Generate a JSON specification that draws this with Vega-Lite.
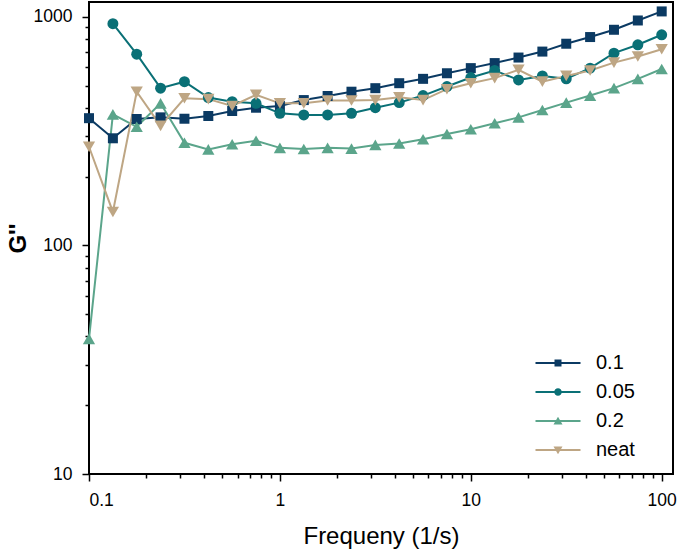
{
  "$schema": "https://vega.github.io/schema/vega-lite/v6.json",
  "width": 584,
  "height": 472,
  "autosize": {"type": "none"},
  "padding": {"left": 89, "top": 2, "right": 12, "bottom": 76},
  "config": {
    "font": "Liberation Sans",
    "view": {"stroke": "black", "strokeWidth": 2},
    "axis": {"labelColor": "black", "titleColor": "black", "tickColor": "black", "domainColor": "black", "grid": false, "labelFontSize": 17.5, "tickWidth": 1.5}
  },
  "datasets": {
    "d": [
      {"f": 0.1, "g": 360, "s": "0.1"}, {"f": 0.1334, "g": 294, "s": "0.1"}, {"f": 0.1778, "g": 357, "s": "0.1"}, {"f": 0.2371, "g": 363, "s": "0.1"}, {"f": 0.3162, "g": 358, "s": "0.1"}, {"f": 0.4217, "g": 368, "s": "0.1"}, {"f": 0.5623, "g": 387, "s": "0.1"}, {"f": 0.7499, "g": 400, "s": "0.1"}, {"f": 1, "g": 407, "s": "0.1"}, {"f": 1.334, "g": 432, "s": "0.1"}, {"f": 1.778, "g": 450, "s": "0.1"}, {"f": 2.371, "g": 470, "s": "0.1"}, {"f": 3.162, "g": 487, "s": "0.1"}, {"f": 4.217, "g": 512, "s": "0.1"}, {"f": 5.623, "g": 535, "s": "0.1"}, {"f": 7.499, "g": 566, "s": "0.1"}, {"f": 10, "g": 596, "s": "0.1"}, {"f": 13.34, "g": 627, "s": "0.1"}, {"f": 17.78, "g": 663, "s": "0.1"}, {"f": 23.71, "g": 704, "s": "0.1"}, {"f": 31.62, "g": 762, "s": "0.1"}, {"f": 42.17, "g": 815, "s": "0.1"}, {"f": 56.23, "g": 877, "s": "0.1"}, {"f": 74.99, "g": 963, "s": "0.1"}, {"f": 100, "g": 1055, "s": "0.1"},
      {"f": 0.1334, "g": 932, "s": "0.05"}, {"f": 0.1778, "g": 686, "s": "0.05"}, {"f": 0.2371, "g": 487, "s": "0.05"}, {"f": 0.3162, "g": 520, "s": "0.05"}, {"f": 0.4217, "g": 443, "s": "0.05"}, {"f": 0.5623, "g": 425, "s": "0.05"}, {"f": 0.7499, "g": 418, "s": "0.05"}, {"f": 1, "g": 378, "s": "0.05"}, {"f": 1.334, "g": 372, "s": "0.05"}, {"f": 1.778, "g": 372, "s": "0.05"}, {"f": 2.371, "g": 378, "s": "0.05"}, {"f": 3.162, "g": 400, "s": "0.05"}, {"f": 4.217, "g": 421, "s": "0.05"}, {"f": 5.623, "g": 452, "s": "0.05"}, {"f": 7.499, "g": 495, "s": "0.05"}, {"f": 10, "g": 542, "s": "0.05"}, {"f": 13.34, "g": 582, "s": "0.05"}, {"f": 17.78, "g": 529, "s": "0.05"}, {"f": 23.71, "g": 551, "s": "0.05"}, {"f": 31.62, "g": 535, "s": "0.05"}, {"f": 42.17, "g": 596, "s": "0.05"}, {"f": 56.23, "g": 693, "s": "0.05"}, {"f": 74.99, "g": 754, "s": "0.05"}, {"f": 100, "g": 834, "s": "0.05"},
      {"f": 0.1, "g": 39, "s": "0.2"}, {"f": 0.1334, "g": 374, "s": "0.2"}, {"f": 0.1778, "g": 330, "s": "0.2"}, {"f": 0.2371, "g": 418, "s": "0.2"}, {"f": 0.3162, "g": 281, "s": "0.2"}, {"f": 0.4217, "g": 263, "s": "0.2"}, {"f": 0.5623, "g": 277, "s": "0.2"}, {"f": 0.7499, "g": 287, "s": "0.2"}, {"f": 1, "g": 267, "s": "0.2"}, {"f": 1.334, "g": 264, "s": "0.2"}, {"f": 1.778, "g": 267, "s": "0.2"}, {"f": 2.371, "g": 265, "s": "0.2"}, {"f": 3.162, "g": 275, "s": "0.2"}, {"f": 4.217, "g": 279, "s": "0.2"}, {"f": 5.623, "g": 291, "s": "0.2"}, {"f": 7.499, "g": 307, "s": "0.2"}, {"f": 10, "g": 322, "s": "0.2"}, {"f": 13.34, "g": 342, "s": "0.2"}, {"f": 17.78, "g": 363, "s": "0.2"}, {"f": 23.71, "g": 391, "s": "0.2"}, {"f": 31.62, "g": 421, "s": "0.2"}, {"f": 42.17, "g": 452, "s": "0.2"}, {"f": 56.23, "g": 487, "s": "0.2"}, {"f": 74.99, "g": 535, "s": "0.2"}, {"f": 100, "g": 591, "s": "0.2"},
      {"f": 0.1, "g": 270, "s": "neat"}, {"f": 0.1334, "g": 140, "s": "neat"}, {"f": 0.1778, "g": 470, "s": "neat"}, {"f": 0.2371, "g": 333, "s": "neat"}, {"f": 0.3162, "g": 440, "s": "neat"}, {"f": 0.4217, "g": 436, "s": "neat"}, {"f": 0.5623, "g": 407, "s": "neat"}, {"f": 0.7499, "g": 455, "s": "neat"}, {"f": 1, "g": 418, "s": "neat"}, {"f": 1.334, "g": 418, "s": "neat"}, {"f": 1.778, "g": 430, "s": "neat"}, {"f": 2.371, "g": 430, "s": "neat"}, {"f": 3.162, "g": 432, "s": "neat"}, {"f": 4.217, "g": 444, "s": "neat"}, {"f": 5.623, "g": 432, "s": "neat"}, {"f": 7.499, "g": 482, "s": "neat"}, {"f": 10, "g": 512, "s": "neat"}, {"f": 13.34, "g": 539, "s": "neat"}, {"f": 17.78, "g": 586, "s": "neat"}, {"f": 23.71, "g": 520, "s": "neat"}, {"f": 31.62, "g": 551, "s": "neat"}, {"f": 42.17, "g": 582, "s": "neat"}, {"f": 56.23, "g": 630, "s": "neat"}, {"f": 74.99, "g": 670, "s": "neat"}, {"f": 100, "g": 721, "s": "neat"}
    ]
  },
  "data": {"name": "d"},
  "layer": [
    {
      "mark": {"type": "line", "strokeWidth": 2},
      "encoding": {
        "x": {"field": "f", "type": "quantitative", "scale": {"type": "log", "domain": [0.1, 114.6], "nice": false},
          "axis": {"orient": "bottom", "values": [0.1, 1, 10, 100], "format": "~r", "tickSize": 7, "domain": false, "labelPadding": 10, "title": "Frequeny (1/s)", "titleFontSize": 24, "titleFontWeight": "normal", "titlePadding": 16}},
        "y": {"field": "g", "type": "quantitative", "scale": {"type": "log", "domain": [10, 1160], "nice": false},
          "axis": {"orient": "left", "values": [10, 100, 1000], "format": "~r", "tickSize": 7, "domain": false, "labelPadding": 10, "title": "G''", "titleFontSize": 24, "titleFontWeight": "bold", "titlePadding": 3}},
        "color": {"field": "s", "type": "nominal", "scale": {"range": ["#0a7076", "#0b3a63", "#5ba58b", "#bea684"]}, "legend": null},
        "order": {"field": "f", "type": "quantitative"}
      }
    },
    {
      "transform": [{"filter": "datum.s === '0.1'"}],
      "mark": {"type": "point", "filled": true, "opacity": 1, "shape": "square", "size": 100},
      "encoding": {
        "x": {"field": "f", "type": "quantitative", "axis": {"orient": "bottom", "values": [0.2, 0.3, 0.4, 0.5, 0.6, 0.7, 0.8, 0.9, 2, 3, 4, 5, 6, 7, 8, 9, 20, 30, 40, 50, 60, 70, 80, 90], "labels": false, "tickSize": 4, "domain": false, "title": null}},
        "y": {"field": "g", "type": "quantitative", "axis": {"orient": "left", "values": [20, 30, 40, 50, 60, 70, 80, 90, 200, 300, 400, 500, 600, 700, 800, 900], "labels": false, "tickSize": 4, "domain": false, "title": null}},
        "color": {"field": "s", "type": "nominal", "legend": null}
      }
    },
    {
      "transform": [{"filter": "datum.s === '0.05'"}],
      "mark": {"type": "point", "filled": true, "opacity": 1, "shape": "circle", "size": 120},
      "encoding": {
        "x": {"field": "f", "type": "quantitative", "axis": null},
        "y": {"field": "g", "type": "quantitative", "axis": null},
        "color": {"field": "s", "type": "nominal", "legend": null}
      }
    },
    {
      "transform": [{"filter": "datum.s === '0.2'"}],
      "mark": {"type": "point", "filled": true, "opacity": 1, "shape": "triangle-up", "size": 150},
      "encoding": {
        "x": {"field": "f", "type": "quantitative", "axis": null},
        "y": {"field": "g", "type": "quantitative", "axis": null},
        "color": {"field": "s", "type": "nominal", "legend": null}
      }
    },
    {
      "transform": [{"filter": "datum.s === 'neat'"}],
      "mark": {"type": "point", "filled": true, "opacity": 1, "shape": "triangle-down", "size": 150},
      "encoding": {
        "x": {"field": "f", "type": "quantitative", "axis": null},
        "y": {"field": "g", "type": "quantitative", "axis": null},
        "color": {"field": "s", "type": "nominal", "legend": null}
      }
    },
    {
      "mark": {"type": "point", "filled": true, "opacity": 0, "size": 144},
      "encoding": {
        "x": {"field": "f", "type": "quantitative", "axis": null},
        "y": {"field": "g", "type": "quantitative", "axis": null},
        "fill": {"field": "s", "type": "nominal", "scale": {"domain": ["0.1", "0.05", "0.2", "neat"], "range": ["#0b3a63", "#0a7076", "#5ba58b", "#bea684"]}, "legend": {"title": null, "orient": "none", "legendX": 459, "legendY": 351, "padding": 0, "symbolOpacity": 1, "symbolStrokeWidth": 0, "labelFontSize": 20, "labelColor": "black", "labelOffset": 28, "rowPadding": 9}},
        "shape": {"field": "s", "type": "nominal", "scale": {"domain": ["0.1", "0.05", "0.2", "neat"], "range": [
          "M-4.5,-0.2H4.5V0.2H-4.5ZM-0.7,-0.7H0.7V0.7H-0.7Z",
          "M-4.5,-0.2H4.5V0.2H-4.5ZM0.75,0A0.75,0.75 0 1,1 -0.75,0A0.75,0.75 0 1,1 0.75,0Z",
          "M-4.5,-0.2H4.5V0.2H-4.5ZM0,-0.85L0.9,0.7L-0.9,0.7Z",
          "M-4.5,-0.2H4.5V0.2H-4.5ZM0,0.85L-0.9,-0.7L0.9,-0.7Z"
        ]}, "legend": {"title": null, "orient": "none", "legendX": 459, "legendY": 351, "padding": 0, "symbolOpacity": 1, "symbolStrokeWidth": 0, "labelFontSize": 20, "labelColor": "black", "labelOffset": 28, "rowPadding": 9}}
      }
    }
  ],
  "resolve": {"axis": {"x": "independent", "y": "independent"}}
}
